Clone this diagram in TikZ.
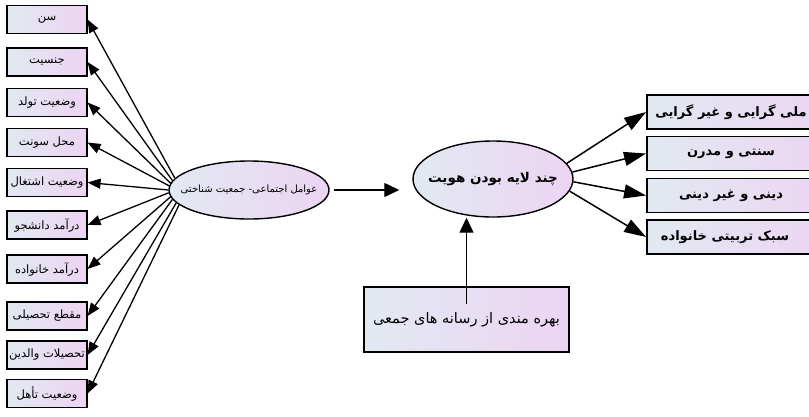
\documentclass[tikz,border=0pt]{standalone}
\usepackage{fontspec}
\newfontfamily\arabicfont[Script=Arabic]{DejaVu Sans}
\TeXXeTstate=1
\usetikzlibrary{arrows.meta,shapes.geometric}
\definecolor{fillL}{RGB}{226,233,241}
\definecolor{fillR}{RGB}{236,212,243}
\tikzset{
  shade2/.style={left color=fillL,right color=fillR},
  lbox/.style={draw,shade2,line width=1.1pt,minimum width=80pt,minimum height=28pt,inner sep=0pt,
    font=\arabicfont\fontsize{11.5}{13}\selectfont},
  rbox/.style={draw,shade2,line width=1.8pt,minimum width=190pt,minimum height=34pt,inner sep=0pt},
  rtext/.style={font=\arabicfont\bfseries\fontsize{13}{15}\selectfont,inner sep=0pt,xshift=-11pt},
  ell/.style={draw,ellipse,shade2,line width=1.4pt,inner sep=0pt},
  bbox/.style={draw,shade2,line width=1.4pt,minimum width=205pt,minimum height=65pt,inner sep=0pt,
    font=\arabicfont\fontsize{14.5}{16}\selectfont},
  arrL/.style={line width=1.3pt,-{Triangle[length=13pt,width=10pt]}},
  arrM/.style={line width=1.3pt,-{Triangle[length=15pt,width=14pt]}},
  arrR/.style={line width=1.5pt,-{Triangle[length=22pt,width=14pt]}},
}
\begin{document}
\begin{tikzpicture}[x=1pt,y=-1pt]
\useasboundingbox (0,0) rectangle (809,416);
\clip (0,0) rectangle (809,416);
\fill[white] (0,0) rectangle (809,416);
% left boxes
\node[lbox] (L1) at (47,19.5) {\beginR سن\endR};
\node[lbox] (L2) at (47,62) {\beginR جنسیت\endR};
\node[lbox] (L3) at (47,102.5) {\beginR وضعیت تولد\endR};
\node[lbox] (L4) at (47,142.5) {\beginR محل سونت\endR};
\node[lbox] (L5) at (47,182.5) {\beginR وضعیت اشتغال\endR};
\node[lbox] (L6) at (47,225) {\beginR درآمد دانشجو\endR};
\node[lbox] (L7) at (47,269) {\beginR درآمد خانواده\endR};
\node[lbox] (L8) at (47,316) {\beginR مقطع تحصیلی\endR};
\node[lbox] (L9) at (47,355) {\beginR تحصیلات والدین\endR};
\node[lbox] (L10) at (47,393.5) {\beginR وضعیت تأهل\endR};
% ellipses
\node[ell,minimum width=160pt,minimum height=58pt,
  label={[font=\arabicfont\fontsize{10}{12}\selectfont,inner sep=0pt]center:\beginR عوامل اجتماعی- جمعیت شناختی\endR}] (e1) at (249,190) {};
\node[ell,minimum width=160pt,minimum height=76pt,
  label={[font=\arabicfont\bfseries\fontsize{13.5}{15}\selectfont,inner sep=0pt]center:\beginR چند لایه بودن هویت\endR}] (e2) at (493,179) {};
% bottom box
\node[bbox] (b) at (466.5,319.5) {\beginR بهره مندی از رسانه های جمعی\endR};
% right boxes
\node[rbox,label={[rtext]center:\beginR ملی گرایی و غیر گرایی\endR}] (R1) at (742,112) {};
\node[rbox,label={[rtext]center:\beginR سنتی و مدرن\endR}] (R2) at (742,153.5) {};
\node[rbox,label={[rtext]center:\beginR دینی و غیر دینی\endR}] (R3) at (742,195.5) {};
\node[rbox,label={[rtext,xshift=-6pt]center:\beginR سبک تربیتی خانواده\endR}] (R4) at (742,237) {};
% connectors left
\draw[arrL] (e1.171) -- (L1.east);
\draw[arrL] (e1.173) -- (L2.east);
\draw[arrL] (e1.175) -- (L3.east);
\draw[arrL] (e1.177.5) -- (L4.east);
\draw[arrL] (e1.180) -- (L5.east);
\draw[arrL] (e1.182.5) -- (L6.east);
\draw[arrL] (e1.185) -- (L7.east);
\draw[arrL] (e1.187.5) -- (L8.east);
\draw[arrL] (e1.190) -- (L9.east);
\draw[arrL] (e1.192) -- (L10.east);
% middle
\draw[arrM] ([xshift=4pt]e1.east) -- ([xshift=-13pt]e2.west |- e1.east);
\draw[arrM] ([yshift=-18pt]b.north) -- (b.north |- e2.south);
% right
\draw[arrR] (e2.12) -- (R1.west);
\draw[arrR] (e2.5) -- (R2.west);
\draw[arrR] (e2.-2) -- (R3.west);
\draw[arrR] (e2.-9) -- (R4.west);
\end{tikzpicture}
\end{document}
